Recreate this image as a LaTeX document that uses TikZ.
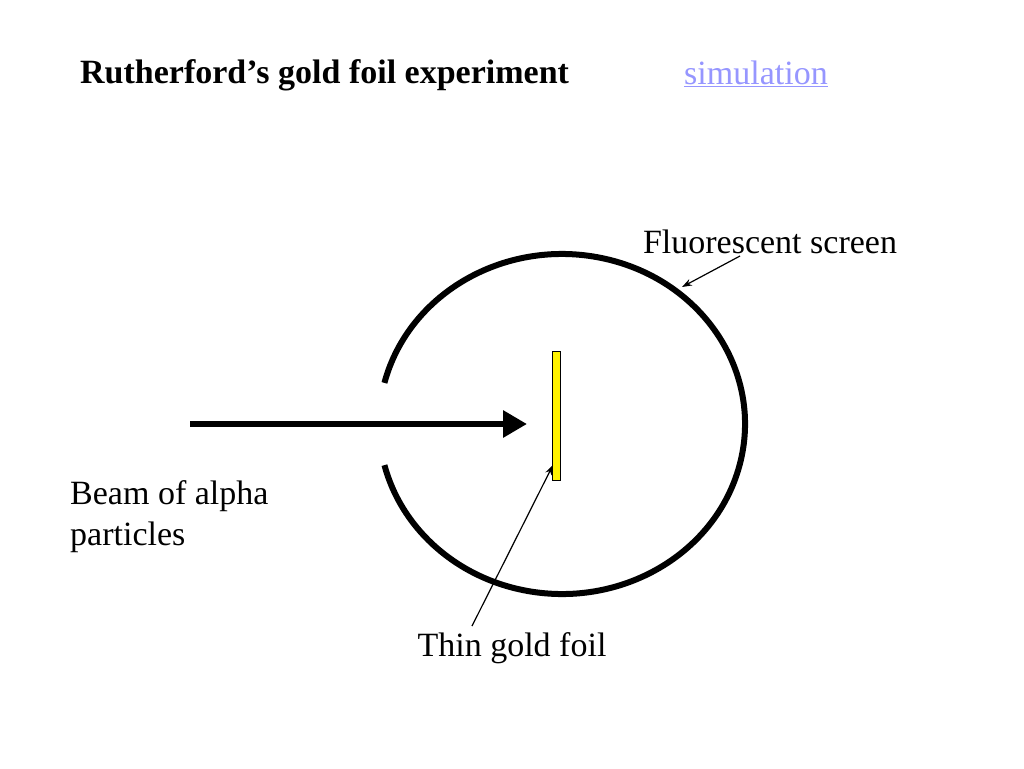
\documentclass[tikz,border=0pt]{standalone}
\usepackage{fontspec}
\setmainfont{Liberation Serif}
\usetikzlibrary{arrows.meta}
\definecolor{linkc}{RGB}{150,150,255}
\begin{document}
\begin{tikzpicture}[x=1pt,y=-1pt,
  lbl/.style={font=\fontsize{34}{41}\selectfont,inner sep=0pt},
  thin/.style={line width=1.2pt,-{Stealth[length=10pt,width=7pt]}}]
\useasboundingbox[fill=white] (0,0) rectangle (1024,768);
\node[lbl,anchor=west,font=\fontsize{34}{41}\selectfont\bfseries] (title) at (80,75) {Rutherford’s gold foil experiment};
\node[lbl,anchor=west,text=linkc,font=\fontsize{34}{41}\selectfont] (sim) at (684,74) {\underline{simulation}};
\draw[line width=6pt] (562,424) ++(194:183 and 170) arc[start angle=194,end angle=526,x radius=183,y radius=170];
\node[draw=black,fill=yellow,line width=0.8pt,minimum width=8pt,minimum height=129pt,inner sep=0pt] (foil) at (556,415.5) {};
\coordinate (bs) at (190,424);
\draw[line width=6pt,-{Triangle[length=24pt,width=26pt]}] (bs) -- (527,424);
\node[lbl] (fs) at (770,242) {Fluorescent screen};
\coordinate (fsa) at (740,256);
\coordinate (fsb) at (682,287);
\draw[thin] (fsa) -- (fsb);
\node[lbl] (tg) at (512,648) {Thin gold foil};
\coordinate (tga) at (472,626);
\coordinate (tgb) at (553,465);
\draw[thin] (tga) -- (tgb);
\node[lbl,anchor=north west,align=left] (beam) at (70,480) {Beam of alpha\\particles};
\end{tikzpicture}
\end{document}
